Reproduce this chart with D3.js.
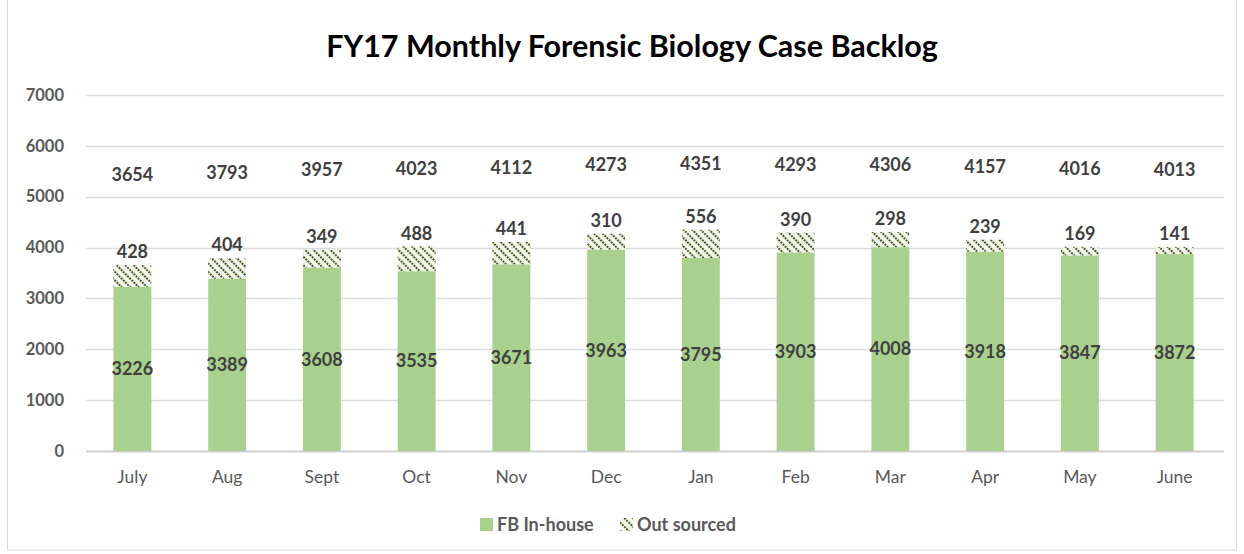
<!DOCTYPE html>
<html>
<head>
<meta charset="utf-8">
<script src="https://cdn.jsdelivr.net/npm/d3@7"></script>
<style>
  body { margin: 0; background: #fff; }
  text { font-family: Lato, "Liberation Sans", sans-serif; }
</style>
</head>
<body>
<div id="chart"></div>
<script>
var width = 1244;
var height = 554;

// data
var months = ["July", "Aug", "Sept", "Oct", "Nov", "Dec", "Jan", "Feb", "Mar", "Apr", "May", "June"];
var inHouse = [3226, 3389, 3608, 3535, 3671, 3963, 3795, 3903, 4008, 3918, 3847, 3872];
var outSourced = [428, 404, 349, 488, 441, 310, 556, 390, 298, 239, 169, 141];
var totals = [3654, 3793, 3957, 4023, 4112, 4273, 4351, 4293, 4306, 4157, 4016, 4013];
var yTicks = [0, 1000, 2000, 3000, 4000, 5000, 6000, 7000];
var seriesNames = ["FB In-house", "Out sourced"];

var rows = months.map(function(m, i) {
  return { month: m, inHouse: inHouse[i], out: outSourced[i], total: totals[i] };
});

var svg = d3.select("#chart").append("svg")
  .attr("width", width)
  .attr("height", height);

// hatch pattern for out sourced
var defs = svg.append("defs");
var pat = defs.append("pattern")
  .attr("id", "hatch")
  .attr("patternUnits", "userSpaceOnUse")
  .attr("width", 6).attr("height", 6)
  .attr("patternTransform", "rotate(45)");
pat.append("rect").attr("width", 6).attr("height", 6).attr("fill", "#f1f3ec");
pat.append("line")
  .attr("x1", 0).attr("y1", 3).attr("x2", 6).attr("y2", 3)
  .attr("stroke", "#4b5e1f").attr("stroke-width", 2)
  .attr("stroke-dasharray", "2,1");

// outer border
svg.append("rect")
  .attr("x", 7.5).attr("y", -1)
  .attr("width", 1229).attr("height", 551)
  .attr("fill", "none")
  .attr("stroke", "#d9d9d9");

var x = d3.scaleBand().domain(months).range([85, 1222]).paddingInner(0.6).paddingOuter(0.3);
var y = d3.scaleLinear().domain([0, 7000]).range([451, 95]);
// hidden secondary axis the totals series sits on
var y2 = d3.scaleLinear().domain([-13400, 8600]).range([451, 95]);

// gridlines
svg.append("g")
  .selectAll("line")
  .data(yTicks)
  .enter().append("line")
  .attr("x1", 86).attr("x2", 1224)
  .attr("y1", function(d) { return Math.round(y(d)) + 0.5; })
  .attr("y2", function(d) { return Math.round(y(d)) + 0.5; })
  .attr("stroke", function(d) { return d === 0 ? "#d0d0d0" : "#dcdcdc"; })
  .attr("stroke-width", function(d) { return d === 0 ? 2 : 1.5; });

// y axis labels
var yAxis = d3.axisLeft(y).tickValues(yTicks).tickFormat(d3.format("d")).tickSize(0).tickPadding(0);
var gy = svg.append("g").attr("transform", "translate(64,0)").call(yAxis);
gy.select(".domain").remove();
gy.selectAll("text")
  .attr("fill", "#595959")
  .style("font-size", "16.5px")
  .style("font-weight", "bold");

// x axis labels
var xAxis = d3.axisBottom(x).tickSize(0).tickPadding(0);
var gx = svg.append("g").attr("transform", "translate(0,471)").call(xAxis);
gx.select(".domain").remove();
gx.selectAll("text")
  .attr("fill", "#595959")
  .style("font-size", "17.5px");

// bars
var bars = svg.append("g");
bars.selectAll(".inh")
  .data(rows)
  .enter().append("rect")
  .attr("class", "inh")
  .attr("x", function(d) { return x(d.month); })
  .attr("width", x.bandwidth())
  .attr("y", function(d) { return y(d.inHouse); })
  .attr("height", function(d) { return y(0) - y(d.inHouse); })
  .attr("fill", "#a9d18e");

bars.selectAll(".outs")
  .data(rows)
  .enter().append("rect")
  .attr("class", "outs")
  .attr("x", function(d) { return x(d.month); })
  .attr("width", x.bandwidth())
  .attr("y", function(d) { return y(d.inHouse + d.out); })
  .attr("height", function(d) { return y(d.inHouse) - y(d.inHouse + d.out); })
  .attr("fill", "url(#hatch)");

// labels
var labelStyle = function(sel) {
  sel.attr("text-anchor", "middle")
    .attr("dy", "0.35em")
    .attr("fill", "#404040")
    .style("font-size", "18px")
    .style("font-weight", "bold");
};

svg.append("g").selectAll("text")
  .data(rows)
  .enter().append("text")
  .attr("x", function(d) { return x(d.month) + x.bandwidth() / 2; })
  .attr("y", function(d) { return y(d.inHouse / 2); })
  .text(function(d) { return d.inHouse; })
  .call(labelStyle);

svg.append("g").selectAll("text")
  .data(rows)
  .enter().append("text")
  .attr("x", function(d) { return x(d.month) + x.bandwidth() / 2; })
  .attr("y", function(d) { return y(d.inHouse + d.out) - 13; })
  .text(function(d) { return d.out; })
  .call(labelStyle);

svg.append("g").selectAll("text")
  .data(rows)
  .enter().append("text")
  .attr("x", function(d) { return x(d.month) + x.bandwidth() / 2; })
  .attr("y", function(d) { return y2(d.total); })
  .text(function(d) { return d.total; })
  .call(labelStyle);

// title
svg.append("text")
  .attr("x", 632).attr("y", 57)
  .attr("text-anchor", "middle")
  .attr("fill", "#000")
  .style("font-size", "30.5px")
  .style("font-weight", "bold")
  .text("FY17 Monthly Forensic Biology Case Backlog");

// legend
var legend = svg.append("g").attr("transform", "translate(480,518)");
var item = legend.selectAll("g")
  .data(seriesNames)
  .enter().append("g")
  .attr("transform", function(d, i) { return "translate(" + (i * 140) + ",0)"; });
item.append("rect")
  .attr("width", 13).attr("height", 13)
  .attr("fill", function(d, i) { return i === 0 ? "#a9d18e" : "url(#hatch)"; });
item.append("text")
  .attr("x", 17).attr("y", 7)
  .attr("dy", "0.35em")
  .attr("fill", "#595959")
  .style("font-size", "18px")
  .style("font-weight", "bold")
  .text(function(d) { return d; });
</script>
</body>
</html>
